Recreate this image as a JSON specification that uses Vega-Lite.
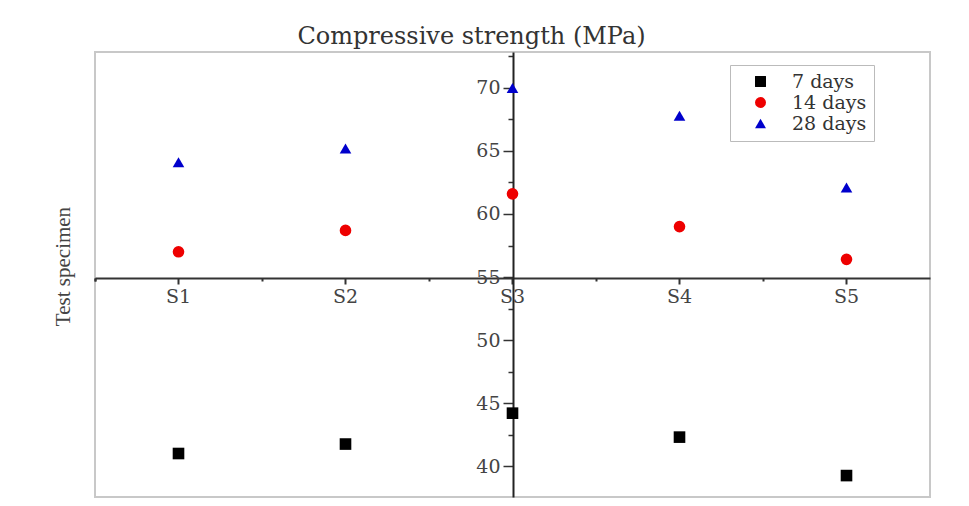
{
  "$schema": "https://vega.github.io/schema/vega-lite/v6.json",
  "width": 835,
  "height": 445,
  "autosize": "none",
  "padding": {"left": 95, "top": 52, "right": 39, "bottom": 9},
  "background": "white",
  "config": {
    "view": {"stroke": "#c8c8c8", "strokeWidth": 2},
    "axis": {"grid": false}
  },
  "title": {
    "text": "Compressive strength (MPa)",
    "font": "DejaVu Serif",
    "fontSize": 24,
    "fontWeight": "normal",
    "color": "#333",
    "anchor": "middle",
    "frame": "group",
    "dx": -41,
    "offset": 3
  },
  "data": {
    "values": [
      {"specimen": "S1", "age": "7 days", "strength": 41.0},
      {"specimen": "S2", "age": "7 days", "strength": 41.75},
      {"specimen": "S3", "age": "7 days", "strength": 44.2},
      {"specimen": "S4", "age": "7 days", "strength": 42.3},
      {"specimen": "S5", "age": "7 days", "strength": 39.25},
      {"specimen": "S1", "age": "14 days", "strength": 57.0},
      {"specimen": "S2", "age": "14 days", "strength": 58.7},
      {"specimen": "S3", "age": "14 days", "strength": 61.6},
      {"specimen": "S4", "age": "14 days", "strength": 59.0},
      {"specimen": "S5", "age": "14 days", "strength": 56.4},
      {"specimen": "S1", "age": "28 days", "strength": 64.1},
      {"specimen": "S2", "age": "28 days", "strength": 65.2},
      {"specimen": "S3", "age": "28 days", "strength": 70.0},
      {"specimen": "S4", "age": "28 days", "strength": 67.8},
      {"specimen": "S5", "age": "28 days", "strength": 62.1}
    ]
  },
  "layer": [
    {
      "mark": {"type": "point", "filled": true, "opacity": 1, "size": 135},
      "encoding": {
        "x": {
          "field": "specimen",
          "type": "nominal",
          "sort": ["S1", "S2", "S3", "S4", "S5"],
          "scale": {"type": "band", "paddingInner": 0, "paddingOuter": 0},
          "axis": {
            "orient": "bottom",
            "offset": -219,
            "labelAngle": 0,
            "domain": true,
            "domainColor": "#333",
            "domainWidth": 2,
            "ticks": true,
            "tickSize": 6,
            "tickColor": "#333",
            "tickWidth": 2,
            "labelFont": "DejaVu Serif",
            "labelFontSize": 19,
            "labelColor": "#444",
            "labelPadding": 3,
            "title": "Test specimen",
            "titleFont": "Liberation Serif",
            "titleFontSize": 21,
            "titleFontWeight": "normal",
            "titleColor": "#444",
            "titleAngle": 270,
            "titleX": -32,
            "titleY": -12,
            "titleAlign": "center",
            "titleBaseline": "middle"
          }
        },
        "y": {
          "field": "strength",
          "type": "quantitative",
          "scale": {"domain": [37.55, 72.85], "nice": false, "zero": false},
          "axis": {
            "orient": "left",
            "offset": -418,
            "title": null,
            "values": [37.5, 40, 42.5, 45, 47.5, 50, 52.5, 55, 57.5, 60, 62.5, 65, 67.5, 70, 72.5],
            "labelExpr": "datum.value % 5 === 0 ? datum.label : ''",
            "tickSize": {"condition": {"test": "datum.value % 5 === 0", "value": 10}, "value": 5},
            "tickColor": "#333",
            "tickWidth": 1.5,
            "domainColor": "#222",
            "domainWidth": 2,
            "labelFont": "DejaVu Serif",
            "labelFontSize": 19,
            "labelColor": "#444",
            "labelPadding": 3
          }
        },
        "shape": {
          "field": "age",
          "type": "nominal",
          "scale": {"domain": ["7 days", "14 days", "28 days"], "range": ["square", "circle", "triangle-up"]},
          "legend": {
            "title": null,
            "orient": "none",
            "legendX": 635,
            "legendY": 13,
            "strokeColor": "#bbb",
            "fillColor": "white",
            "padding": 7,
            "symbolOffset": 14,
            "symbolSize": 120,
            "symbolStrokeWidth": 0,
            "labelFont": "DejaVu Serif",
            "labelFontSize": 19,
            "labelColor": "#333",
            "labelOffset": 22,
            "rowPadding": 1
          }
        },
        "color": {
          "field": "age",
          "type": "nominal",
          "scale": {"domain": ["7 days", "14 days", "28 days"], "range": ["#000000", "#ee0000", "#0000cc"]},
          "legend": {
            "title": null,
            "orient": "none",
            "legendX": 635,
            "legendY": 13,
            "strokeColor": "#bbb",
            "fillColor": "white",
            "padding": 7,
            "symbolOffset": 14,
            "symbolSize": 120,
            "symbolStrokeWidth": 0,
            "labelFont": "DejaVu Serif",
            "labelFontSize": 19,
            "labelColor": "#333",
            "labelOffset": 22,
            "rowPadding": 1
          }
        }
      }
    },
    {
      "mark": {"type": "point", "opacity": 0},
      "encoding": {
        "x": {
          "field": "specimen",
          "type": "nominal",
          "sort": ["S1", "S2", "S3", "S4", "S5"],
          "axis": {
            "orient": "bottom",
            "offset": -219,
            "bandPosition": 0,
            "tickExtra": true,
            "labels": false,
            "domain": false,
            "title": null,
            "tickSize": 3,
            "tickColor": "#333",
            "tickWidth": 2
          }
        }
      }
    }
  ],
  "resolve": {"axis": {"x": "independent"}}
}
